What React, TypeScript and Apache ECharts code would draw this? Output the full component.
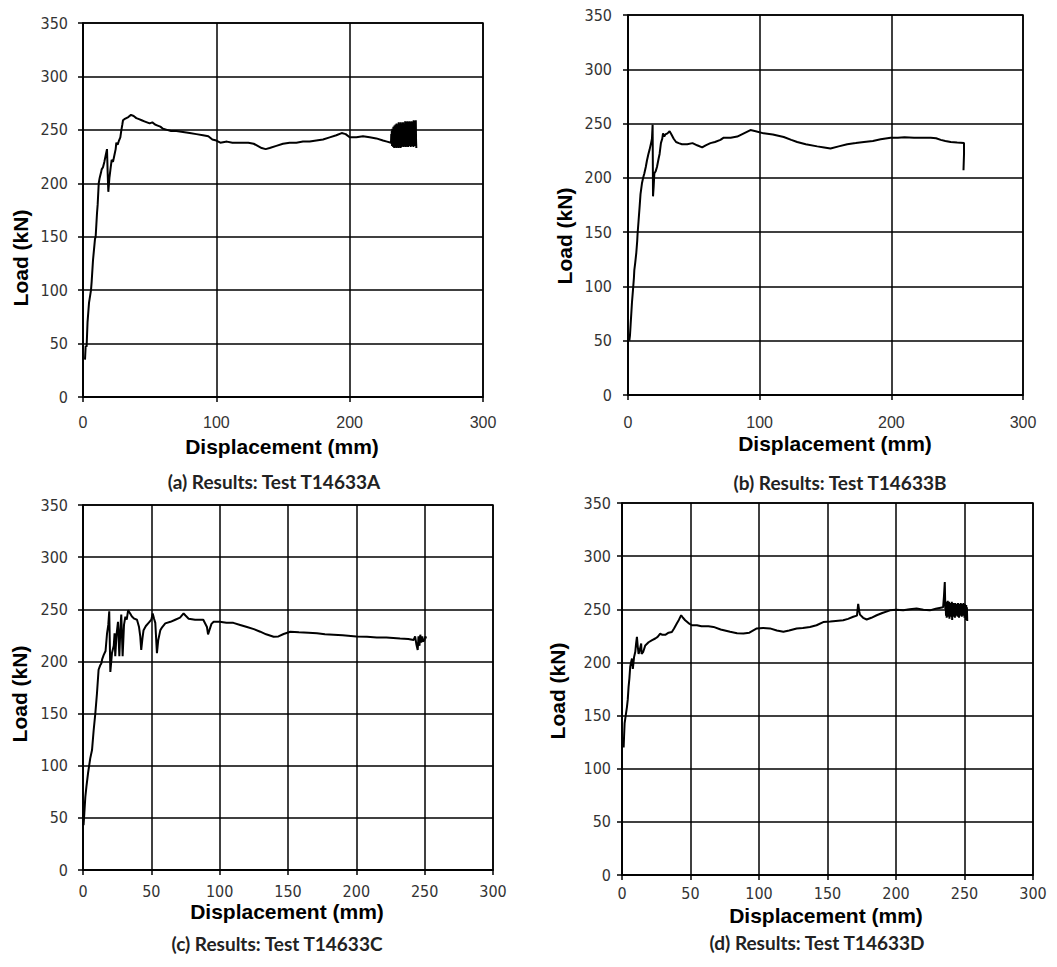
import React, { useEffect, useRef } from "react";
import * as echarts from "echarts";

// Load (kN) vs displacement (mm) for the four tests
const testA: [number, number][] = [
  [1.5, 35], [2, 48], [2.7, 47], [3.4, 70], [4.5, 88], [5, 92], [6, 100], [6.5, 108], [7.5, 128], [9, 148],
  [9.5, 150], [10.5, 172], [11, 180], [11.8, 200], [12.5, 205], [13.5, 210], [14, 213], [15, 215], [16, 220],
  [17, 226], [18, 232], [18.5, 210], [19, 192], [19.8, 205], [20.5, 212], [21.5, 222], [22.5, 220], [23.5, 226],
  [24.5, 232], [25, 238], [26, 236], [27, 240], [28, 243], [28.8, 250], [29.5, 255], [30, 259], [31, 260],
  [32.5, 261], [34, 262], [36, 264], [38, 263], [40, 261], [42, 260], [44, 259], [46, 258], [48, 257], [50, 256],
  [52, 257], [54, 255], [56, 254], [58, 253], [60, 251], [63, 250], [66, 249], [70, 249], [75, 248], [80, 247],
  [85, 246], [90, 245], [94, 244], [97, 241], [100, 240], [103, 238], [108, 239], [112, 238], [118, 238],
  [124, 238], [128, 237], [131, 235], [134, 233], [137, 232], [140, 233], [145, 235], [150, 237], [155, 238],
  [160, 238], [165, 239], [170, 239], [175, 240], [180, 241], [185, 243], [190, 245], [194, 247], [197, 246],
  [200, 243], [205, 243], [210, 244], [215, 243], [220, 242], [225, 240], [228, 239], [231, 238],
  [231.2, 246], [231.4, 237], [231.6, 249], [231.8, 235], [232, 251], [232.2, 236], [232.4, 248], [232.6, 234],
  [232.8, 253], [233, 237], [233.2, 250], [233.4, 233], [233.6, 254], [233.8, 236], [234, 249], [234.2, 234],
  [234.4, 255], [234.6, 238], [234.8, 251], [235, 233], [235.2, 256], [235.4, 236], [235.6, 252], [235.8, 234],
  [236, 255], [236.2, 237], [236.4, 250], [236.6, 233], [236.8, 257], [237, 236], [237.2, 253], [237.4, 234],
  [237.6, 256], [237.8, 238], [238, 251], [238.2, 233], [238.4, 257], [238.6, 236], [238.8, 254], [239, 234],
  [239.2, 256], [239.4, 237], [239.6, 252], [239.8, 235], [240, 257], [240.2, 238], [240.4, 253], [240.6, 234],
  [240.8, 256], [241, 236], [241.2, 251], [241.4, 235], [241.6, 258], [241.8, 237], [242, 254], [242.2, 234],
  [242.4, 257], [242.6, 238], [242.8, 252], [243, 235], [243.2, 258], [243.4, 236], [243.6, 253], [243.8, 234],
  [244, 257], [244.2, 237], [244.4, 252], [244.6, 235], [244.8, 258], [245, 238], [245.2, 254], [245.4, 236],
  [245.6, 257], [245.8, 234], [246, 253], [246.2, 237], [246.4, 258], [246.6, 235], [246.8, 254], [247, 238],
  [247.2, 257], [247.4, 236], [247.6, 252], [247.8, 234], [248, 259], [248.2, 237], [248.4, 255], [248.6, 235],
  [248.8, 258], [249, 238], [249.2, 254], [249.4, 236], [249.6, 259], [249.8, 240], [250, 233],
];

const testB: [number, number][] = [
  [1, 50], [1.5, 55], [2, 65], [2.5, 75], [3, 85], [3.8, 97], [4.5, 108], [4.8, 115], [5.5, 122], [6.3, 131],
  [7, 142], [7.3, 149], [8, 160], [8.8, 173], [9.5, 185], [10.6, 195], [11.5, 200], [12.4, 204], [13.5, 210],
  [14.4, 216], [15.5, 222], [16.4, 226], [17.5, 232], [18.2, 236], [18.7, 249], [19, 183], [19.5, 192], [20, 204],
  [21, 206], [22, 210], [23.3, 218], [24, 222], [25, 232], [26, 236], [26.6, 241], [27.5, 238], [28.4, 240],
  [30, 241], [31.6, 243], [33, 240], [34.7, 236], [36.5, 233], [38.5, 232], [41, 231], [45, 231], [49, 232],
  [52.5, 230], [56.3, 228], [59, 230], [62.6, 232], [66, 233], [70.2, 235], [72.7, 237], [78, 237], [83, 238],
  [88, 241], [93, 244], [97, 243], [103, 241], [110, 240], [118.3, 237.6], [124, 235], [128.5, 233], [135, 231],
  [143.7, 229], [149, 228], [153.8, 227], [160, 229], [166.5, 231], [173, 232], [179.2, 233], [186, 234],
  [191.9, 235.5], [199.5, 237], [205, 237], [210, 237.5], [217.2, 237], [223, 237], [229.9, 237], [234, 236.5],
  [237.5, 235], [241, 234], [245.1, 233], [250, 232.5], [255.2, 232], [255.2, 222], [254.8, 207],
];

const testC: [number, number][] = [
  [0.4, 43], [1, 55], [1.7, 70], [2.5, 80], [3.7, 93], [4.5, 100], [5.3, 107], [6.6, 115], [7.8, 134], [9, 150],
  [10.2, 169], [11.4, 192], [12.5, 196], [13.4, 198], [14, 202], [15.1, 206], [16.5, 210], [17.6, 227], [18.5, 235],
  [19.2, 248], [20, 190], [21.2, 208], [22.5, 215], [23.1, 227], [23.6, 205], [24.5, 225], [25.6, 238], [26.6, 205],
  [27.3, 230], [28, 245], [29, 205], [30, 235], [31, 243], [32, 240], [33, 249], [34.5, 246], [35.8, 243],
  [37.5, 241], [39.5, 240], [41, 233], [41.9, 224], [42.6, 211], [43.5, 222], [44.3, 230], [46, 234], [48, 237],
  [50, 240], [51, 246], [52, 241], [52.9, 237], [53.6, 220], [54.1, 208], [55, 220], [56.6, 230], [58, 233],
  [60.2, 236.5], [64, 238], [67.5, 240], [71, 242], [73.6, 246], [75, 244], [77.3, 241], [82, 240], [88, 240],
  [90.7, 233], [91.5, 226], [92.5, 230], [94, 236], [95.6, 238], [100, 238], [105, 237], [110, 237], [115, 235],
  [120, 233], [125, 231], [129.7, 228.5], [134, 226], [139.5, 223.7], [143, 224], [146.8, 226.3], [151.7, 228.5],
  [158, 228], [165, 227.5], [171.2, 227], [177, 226], [183.4, 225.6], [190, 225], [200, 224], [207.8, 223.7],
  [215, 223], [222, 223], [232, 222], [238, 221.5], [242, 220.6], [243, 224], [244, 216], [244.9, 211],
  [245.5, 224], [246.2, 215], [246.8, 225.6], [247.5, 218], [248.2, 224], [249, 219], [250, 221], [250.5, 224],
  [251, 222],
];

const testD: [number, number][] = [
  [1.2, 120], [1.5, 130], [1.9, 142.6], [2.7, 150], [3.6, 158], [4.2, 165], [4.8, 177], [5.4, 185], [6, 196],
  [6.6, 200], [7.3, 203.7], [7.9, 194], [8.8, 205], [9.7, 210], [10.3, 218], [10.9, 224], [11.5, 215], [12.1, 208],
  [13, 212], [14, 217.8], [14.3, 208], [15.5, 210], [17, 216], [19.4, 219], [22, 221], [24.3, 222.5], [26, 224],
  [27.9, 227], [29.5, 226], [31.6, 226], [34, 228], [36.4, 228.7], [38, 232], [40, 236.6], [41.5, 240],
  [43.2, 244.4], [44.5, 242], [46.1, 239.7], [48.5, 237], [51, 235], [54.7, 235], [58, 234], [63.1, 234],
  [66.8, 233.4], [72, 231], [78.9, 228.8], [84, 227.5], [88.6, 227.3], [93, 228], [98.4, 232], [103, 232.5],
  [108, 232], [113, 230], [117.8, 228.8], [122, 230], [127.5, 232], [132, 232.5], [137.2, 233.4], [142, 235],
  [146.9, 238], [152, 238.5], [156, 239], [161.5, 239.7], [165, 241], [168.8, 243], [171.5, 244], [172.4, 255],
  [173.2, 248], [173.7, 245], [176, 242], [178.6, 240.4], [182, 242], [185.9, 244.4], [190, 246.5], [195.6, 249],
  [200, 249.5], [205.3, 249], [210, 250], [215, 250.7], [220, 249.5], [224.7, 249], [229, 250.5], [234.4, 252],
  [235, 262], [235.6, 275.7], [236, 250],
  [236.25, 256], [236.5, 244], [236.75, 257], [237, 242], [237.25, 255], [237.5, 246], [237.75, 258], [238, 243],
  [238.25, 254], [238.5, 245], [238.75, 257], [239, 241], [239.25, 255], [239.5, 247], [239.75, 256], [240, 243],
  [240.25, 254], [240.5, 245], [240.75, 257], [241, 240], [241.25, 253], [241.5, 246], [241.75, 256], [242, 243],
  [242.25, 255], [242.5, 247], [242.75, 254], [243, 242], [243.25, 256], [243.5, 245], [243.75, 253], [244, 244],
  [244.25, 255], [244.5, 247], [244.75, 252], [245, 243], [245.25, 256], [245.5, 246], [245.75, 254], [246, 242],
  [246.25, 255], [246.5, 245], [246.75, 253], [247, 244], [247.25, 256], [247.5, 246], [247.75, 254], [248, 243],
  [248.25, 255], [248.5, 247], [248.75, 253], [249, 244], [249.25, 256], [249.5, 245], [249.75, 254], [250, 242],
  [250.25, 255], [250.5, 246], [250.75, 253], [251, 240], [251.25, 254], [251.5, 244], [251.75, 252], [252, 239],
];

const seriesData = [testA, testB, testC, testD];
const xIntervals = [100, 100, 50, 50];
const captions = [
  "(a) Results: Test T14633A",
  "(b) Results: Test T14633B",
  "(c) Results: Test T14633C",
  "(d) Results: Test T14633D",
];
const xAxisTitle = "Displacement (mm)";
const yAxisTitle = "Load (kN)";

const FONT = "'Liberation Sans', Arial, sans-serif";
const NARROW = "'Liberation Sans Narrow', 'DejaVu Sans Condensed', 'Liberation Sans', sans-serif";

// layout of the four panels (pixels)
const panels = [
  { left: 83, top: 23, width: 400, height: 374, xLabelMargin: 17, yLabelMargin: 15, xFont: 16, xFamily: FONT,
    xName: [282, 446], yName: [20, 258], cap: [274, 481] },
  { left: 628, top: 15, width: 395, height: 380, xLabelMargin: 19, yLabelMargin: 16, xFont: 16, xFamily: FONT,
    xName: [835, 443], yName: [564, 236], cap: [840, 482] },
  { left: 83, top: 505, width: 410, height: 365, xLabelMargin: 13, yLabelMargin: 15, xFont: 16, xFamily: NARROW,
    xName: [287, 911], yName: [19, 694], cap: [277, 943] },
  { left: 622, top: 503, width: 411, height: 372, xLabelMargin: 10, yLabelMargin: 11, xFont: 16, xFamily: NARROW,
    xName: [826, 915], yName: [557, 691], cap: [817, 942] },
];

export default function App() {
  const ref = useRef<HTMLDivElement>(null);
  useEffect(() => {
    if (!ref.current) return;
    const chart = echarts.init(ref.current, undefined, { renderer: "svg" });
    const lineBlack = { color: "#000", width: 1.5 };
    const option: any = {
      animation: false,
      backgroundColor: "#fff",
      grid: panels.map((p) => ({
        left: p.left, top: p.top, width: p.width, height: p.height,
        show: true, borderColor: "#000", borderWidth: 1.5, backgroundColor: "transparent",
      })),
      xAxis: panels.map((p, i) => ({
        type: "value", gridIndex: i, min: 0, max: 300, interval: xIntervals[i],
        axisLine: { show: true, onZero: false, lineStyle: lineBlack },
        axisTick: { show: true, length: 5, lineStyle: lineBlack },
        splitLine: { show: true, lineStyle: lineBlack },
        axisLabel: { color: "#333", fontSize: p.xFont, fontFamily: p.xFamily, margin: p.xLabelMargin },
      })),
      yAxis: panels.map((p, i) => ({
        type: "value", gridIndex: i, min: 0, max: 350, interval: 50,
        axisLine: { show: true, onZero: false, lineStyle: lineBlack },
        axisTick: { show: true, length: 5, lineStyle: lineBlack },
        splitLine: { show: true, lineStyle: lineBlack },
        axisLabel: { color: "#333", fontSize: 16, fontFamily: NARROW, margin: p.yLabelMargin },
      })),
      series: seriesData.map((d, i) => ({
        type: "line", xAxisIndex: i, yAxisIndex: i, data: d, showSymbol: false, symbol: "none",
        lineStyle: { color: "#000", width: 2 }, z: 5,
      })),
      graphic: panels.flatMap((p, i) => [
        {
          type: "text", x: p.xName[0], y: p.xName[1],
          style: { text: xAxisTitle, fontSize: 21, fontWeight: "bold", fontFamily: FONT, fill: "#000",
            align: "center", verticalAlign: "middle" },
        },
        {
          type: "text", x: p.yName[0], y: p.yName[1], rotation: Math.PI / 2,
          style: { text: yAxisTitle, fontSize: 21, fontWeight: "bold", fontFamily: FONT, fill: "#000",
            align: "center", verticalAlign: "middle" },
        },
        {
          type: "text", x: p.cap[0], y: p.cap[1],
          style: { text: captions[i], fontSize: 19, fontWeight: "bold", fontFamily: "Lato, 'Open Sans', sans-serif",
            fill: "#222", align: "center", verticalAlign: "middle" },
        },
      ]),
    };
    chart.setOption(option);
    return () => chart.dispose();
  }, []);
  return (
    <div
      ref={ref}
      style={{ position: "absolute", left: 0, top: 0, width: 1057, height: 967, background: "#fff" }}
    />
  );
}
